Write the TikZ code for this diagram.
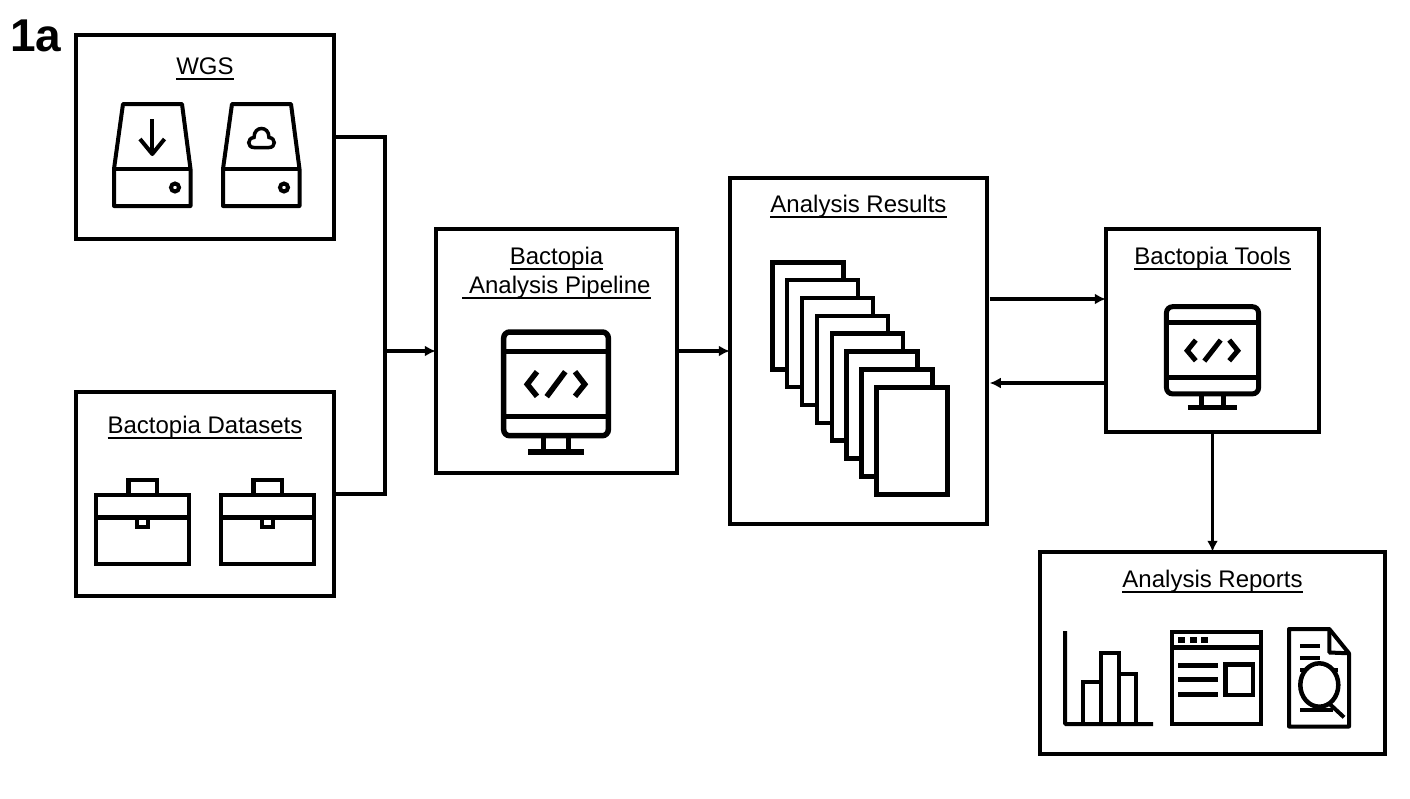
\documentclass[tikz,border=0pt]{standalone}
\usepackage{fontspec}
\setmainfont{Liberation Sans}
\usetikzlibrary{positioning,arrows.meta,calc}
\newcommand{\ulabel}[1]{\sbox0{#1}\rlap{\rule[-5.5pt]{\wd0}{2pt}}\box0}

\begin{document}
\begin{tikzpicture}[
    x=1pt,
    y=-1pt,
    box/.style={
      rectangle,
      draw,
      line width=3.5pt,
      inner sep=0pt,
    },
    title/.style={
      font=\fontsize{24}{29}\selectfont,
      align=center,
      anchor=base,
      inner sep=0pt,
    },
    wire/.style={line width=3.5pt},
    link/.style={wire, shorten >=-1.5pt, -{Latex[length=11pt,width=11pt]}},
    pagebox/.style={
      rectangle,
      draw,
      fill=white,
      line width=4.5pt,
      minimum width=71pt,
      minimum height=107pt,
      inner sep=0pt,
    },
    drive/.pic={
      \draw[line join=round] (9,0) -- (68,0) -- (76.5,65) -- (76.5,102) -- (0,102) -- (0,65) -- cycle;
      \draw (0,65) -- (76.5,65);
      \draw (61,83.5) circle[radius=4pt];
    },
    dlglyph/.pic={
      \draw (38.3,15) -- (38.3,49);
      \draw[line join=round] (26,35) -- (38.3,50) -- (50.5,35);
    },
    cloudglyph/.pic={
      \draw (31,43.5) .. controls (24,43.5) and (24,34) .. (31,33.5)
        .. controls (31,27) and (35,24.5) .. (38.5,24.5)
        .. controls (42,24.5) and (46,27) .. (46,33.5)
        .. controls (53,34) and (53,43.5) .. (46,43.5) -- cycle;
    },
    toolbox/.pic={
      \draw (0,15) rectangle (93,84);
      \draw (0,37.5) -- (93,37.5);
      \draw (32.5,15) -- (32.5,0) -- (61,0) -- (61,15);
      \draw (41,37.5) -- (41,47) -- (52,47) -- (52,37.5);
    },
    monitor/.pic={
      \draw[rounded corners=6pt] (-52.3,-51.5) rectangle (52.3,52.2);
      \draw (-52.3,-32.2) -- (52.3,-32.2);
      \draw (-52.3,33.2) -- (52.3,33.2);
      \draw (-12.5,52) -- (-12.5,68.5);
      \draw (12.5,52) -- (12.5,68.5);
      \draw (-28,68.5) -- (28,68.5);
      \draw (-19,-11.8) -- (-28.7,0.8) -- (-19,12.8);
      \draw (19,-11.8) -- (28.7,0.8) -- (19,12.8);
      \draw (-9.3,13.2) -- (9.3,-11.8);
    },
  ]
    \useasboundingbox (0,0) rectangle (1410,798);

    \node[font=\fontsize{46}{50}\selectfont\bfseries, anchor=base west, inner sep=0pt] (Panel) at (10,51) {1a};

    \node[box, minimum width=258pt, minimum height=204pt] (WGS) at (205,137) {};
    \node[box, minimum width=258pt, minimum height=204pt, below=149.5pt of WGS] (Datasets) {};
    \node[box, minimum width=241pt, minimum height=244pt, right=98.5pt of WGS, yshift=-214pt] (Pipeline) {};
    \node[box, minimum width=257pt, minimum height=346pt, right=49.5pt of Pipeline] (Results) {};
    \node[box, minimum width=213pt, minimum height=203pt, right=115.5pt of Results, yshift=20.5pt] (Tools) {};
    \node[box, minimum width=345pt, minimum height=202pt, below=116.5pt of Tools] (Reports) {};

    \node[title] (WGSTitle) at ($(WGS.north)+(0,41.5)$) {\ulabel{WGS}};
    \node[title] (DatasetsTitle) at ($(Datasets.north)+(0,43.5)$) {\ulabel{Bactopia Datasets}};
    \node[title] (PipelineTitle) at ($(Pipeline.north)+(0,65.75)$) {\ulabel{Bactopia}\\\ulabel{\ Analysis Pipeline}};
    \node[title] (ResultsTitle) at ($(Results.north)+(0,36.5)$) {\ulabel{Analysis Results}};
    \node[title] (ToolsTitle) at ($(Tools.north)+(0,37.5)$) {\ulabel{Bactopia Tools}};
    \node[title] (ReportsTitle) at ($(Reports.north)+(0,37.5)$) {\ulabel{Analysis Reports}};

    % WGS icons
    \pic[line width=4pt] at ($(WGS.center)+(-91,-33)$) {drive};
    \pic[line width=4pt] at ($(WGS.center)+(-91,-33)$) {dlglyph};
    \pic[line width=4pt] at ($(WGS.center)+(18,-33)$) {drive};
    \pic[line width=3.5pt] at ($(WGS.center)+(18,-33)$) {cloudglyph};

    % Datasets icons
    \pic[line width=4.5pt] at ($(Datasets.center)+(-109,-14)$) {toolbox};
    \pic[line width=4.5pt] at ($(Datasets.center)+(16,-14)$) {toolbox};

    % Pipeline and Tools screens
    \pic[line width=5.5pt] at ($(Pipeline.center)+(-0.5,32.5)$) {monitor};
    \pic[line width=5pt, xscale=.88, yscale=.84] at ($(Tools.center)+(0,19.5)$) {monitor};

    % Results stack
    \foreach \i in {0,...,7} {
      \node[pagebox] (Page\i) at ($(Results.center)+(-50.7+14.86*\i,-35.2+17.86*\i)$) {};
    }

    % Reports icons
    \coordinate (ChartBase) at ($(Reports.center)+(-147.5,71)$);
    \draw[line width=4pt, rounded corners=1pt] ($(ChartBase)+(0,-93)$) -- (ChartBase) -- ($(ChartBase)+(88,0)$);
    \draw[line width=4pt] ($(ChartBase)+(18,0)$) |- ($(ChartBase)+(36,-42)$) -- ($(ChartBase)+(36,0)$);
    \draw[line width=4pt] ($(ChartBase)+(36,-42)$) |- ($(ChartBase)+(53.5,-71)$) -- ($(ChartBase)+(53.5,0)$);
    \draw[line width=4pt] ($(ChartBase)+(53.5,-50)$) -| ($(ChartBase)+(71,0)$);

    \coordinate (Window) at ($(Reports.center)+(-40.5,-21)$);
    \draw[line width=4.5pt] (Window) rectangle ($(Window)+(89,92)$);
    \draw[line width=5pt] ($(Window)+(0,15.3)$) -- ($(Window)+(89,15.3)$);
    \foreach \dx in {6,17.7,29.3} {
      \fill ($(Window)+(\dx,5.3)$) rectangle ($(Window)+(\dx+7,10.7)$);
    }
    \foreach \dy in {33,47.3,62.3} {
      \draw[line width=5pt] ($(Window)+(6,\dy)$) -- ($(Window)+(46.3,\dy)$);
    }
    \draw[line width=4.5pt] ($(Window)+(53.5,32.5)$) rectangle ($(Window)+(81,63)$);

    \coordinate (Sheet) at ($(Reports.center)+(76.5,-24)$);
    \draw[line width=4pt, line join=round] (Sheet) -- ($(Sheet)+(40.3,0)$) -- ($(Sheet)+(60,24.3)$) -- ($(Sheet)+(60,97.5)$) -- ($(Sheet)+(0,97.5)$) -- cycle;
    \draw[line width=4pt, line join=round] ($(Sheet)+(40.3,0)$) -- ($(Sheet)+(40.3,23.5)$) -- ($(Sheet)+(60,24.3)$);
    \foreach \dy in {16.7,28.7} {
      \draw[line width=4pt] ($(Sheet)+(11,\dy)$) -- ($(Sheet)+(31,\dy)$);
    }
    \draw[line width=4pt] ($(Sheet)+(11,41)$) -- ($(Sheet)+(49,41)$);
    \draw[line width=4pt] ($(Sheet)+(11,80.7)$) -- ($(Sheet)+(44,80.7)$);
    \draw[line width=4pt] ($(Sheet)+(41,75.3)$) -- ($(Sheet)+(55,88.3)$);
    \draw[line width=4.5pt, fill=white] ($(Sheet)+(30.3,56)$) ellipse[x radius=19pt, y radius=21.7pt];

    % WGS, Datasets --- Pipeline
    \coordinate[left=49.25pt of Pipeline.west] (Junction);
    \draw[wire] (WGS.east) -| (Junction) |- (Datasets.east);
    \draw[link] (Junction) -- (Pipeline.west);

    % Pipeline --- Results
    \draw[link] (Pipeline.east) -- (Results.west);

    % Results --- Tools
    \coordinate (ToolsIn) at ($(Tools.west)+(0,-31.5)$);
    \coordinate (ToolsOut) at ($(Tools.west)+(0,52.5)$);
    \draw[link, shorten <=1pt] (ToolsIn -| Results.east) -- (ToolsIn);
    \draw[link, shorten >=1pt] (ToolsOut) -- (ToolsOut -| Results.east);

    % Tools --- Reports
    \draw[link] (Tools.south) -- (Reports.north);
\end{tikzpicture}
\end{document}
